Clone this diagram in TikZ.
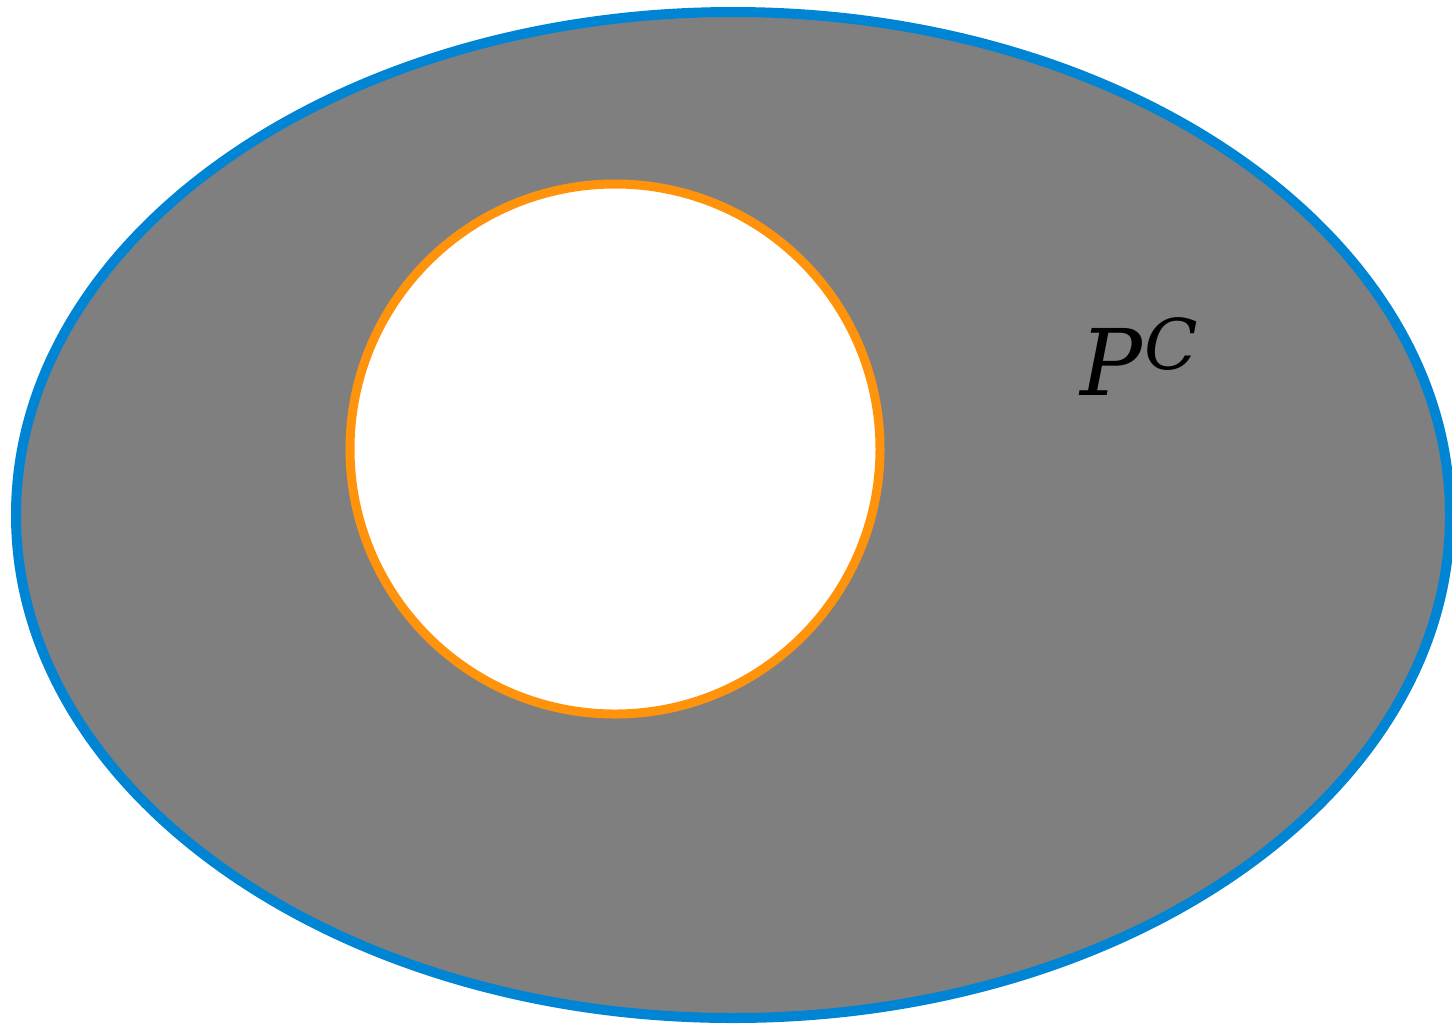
\documentclass[tikz,border=0pt]{standalone}
\usepackage{fontspec}
\setmainfont{DejaVu Serif}
\definecolor{outerblue}{RGB}{0,132,212}
\definecolor{innerorange}{RGB}{255,148,12}
\definecolor{regiongray}{RGB}{127,127,127}
\begin{document}
\begin{tikzpicture}[x=0.5pt,y=-0.5pt,
  outerset/.style={draw=outerblue,fill=regiongray,line width=5pt},
  innerset/.style={draw=innerorange,fill=white,line width=4.5pt},
  setlabel/.style={inner sep=0pt,anchor=base west,font=\fontsize{46}{50}\selectfont\itshape}]
\useasboundingbox (0,0) rectangle (1452,1025);
\path[outerset] (733,515) ellipse [x radius=717, y radius=503];
\path[innerset] (615,449) circle [radius=265];
\node[setlabel] (pc) at (1080,395) {P\kern1pt\raisebox{13pt}{\fontsize{35}{38}\selectfont C}};
\end{tikzpicture}
\end{document}
